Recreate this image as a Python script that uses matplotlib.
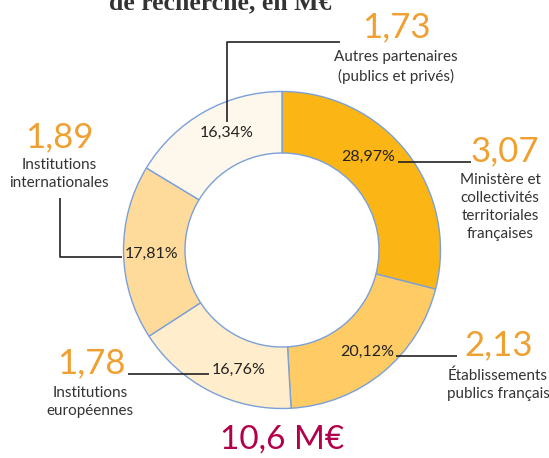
import matplotlib.pyplot as plt

labels = ['Ministère et\ncollectivités\nterritoriales\nfrançaises',
          'Établissements\npublics français',
          'Institutions\neuropéennes',
          'Institutions\ninternationales',
          'Autres partenaires\n(publics et privés)']
amounts = ['3,07', '2,13', '1,78', '1,89', '1,73']
percents = [28.97, 20.12, 16.76, 17.81, 16.34]
total_label = '10,6 M€'
colors = ['#FBB616', '#FECB65', '#FFEDCB', '#FFDB9B', '#FEF7EC']

W, H = 549, 458
plt.rcParams['font.family'] = ['Lato', 'DejaVu Sans']

fig = plt.figure(figsize=(W / 100, H / 100), dpi=100)
ax = fig.add_axes([0, 0, 1, 1])
ax.set_xlim(0, W)
ax.set_ylim(0, H)
ax.set_aspect('equal')
ax.axis('off')


def Y(y):
    # image pixel row -> data y
    return H - y


cx, cy, r_out, r_in = 282, 250, 158.5, 97
ax.pie(percents, colors=colors, startangle=90, counterclock=False,
       center=(cx, Y(cy)), radius=r_out,
       wedgeprops=dict(width=r_out - r_in, edgecolor='#7BA0D8', linewidth=1))
ax.set_xlim(0, W)
ax.set_ylim(0, H)

orange = '#EFA030'
dark = '#333333'
pct_txt = [f'{p:.2f}%'.replace('.', ',') for p in percents]

# (percent pos, number pos, label pos, leader line points)
layout = [
    ((368, 157), (505, 151), (500, 207), [(398, 162), (471, 162)]),
    ((367, 352), (499, 345), (498, 385), [(396, 356), (457, 356)]),
    ((239, 370), (91, 363), (90, 402), [(209, 374), (128, 374)]),
    ((152, 254), (59, 137), (59, 174), [(122, 257), (60, 257), (60, 198)]),
    ((227, 133), (396, 27), (396, 67), [(227, 122), (227, 42), (340, 42)]),
]

for i, (ppos, npos, lpos, line) in enumerate(layout):
    xs = [p[0] for p in line]
    ys = [Y(p[1]) for p in line]
    ax.plot(xs, ys, color='#222222', linewidth=1.2, solid_capstyle='butt')
    ax.text(ppos[0], Y(ppos[1]), pct_txt[i], fontsize=11.5, color='#222222',
            ha='center', va='center')
    ax.text(npos[0], Y(npos[1]), amounts[i], fontsize=25, color=orange,
            ha='center', va='center')
    ax.text(lpos[0], Y(lpos[1]), labels[i], fontsize=11, color=dark,
            ha='center', va='center', linespacing=1.35)

ax.text(cx, Y(440), total_label, fontsize=24, color='#B3004A',
        ha='center', va='center')

# title, cut off at the top edge as in the source page
ax.text(220, Y(9), 'de recherche, en M€', fontsize=18.5, fontweight='bold',
        family='Liberation Serif', color='#333333', ha='center', va='baseline')

fig.savefig('out.png', dpi=100)
